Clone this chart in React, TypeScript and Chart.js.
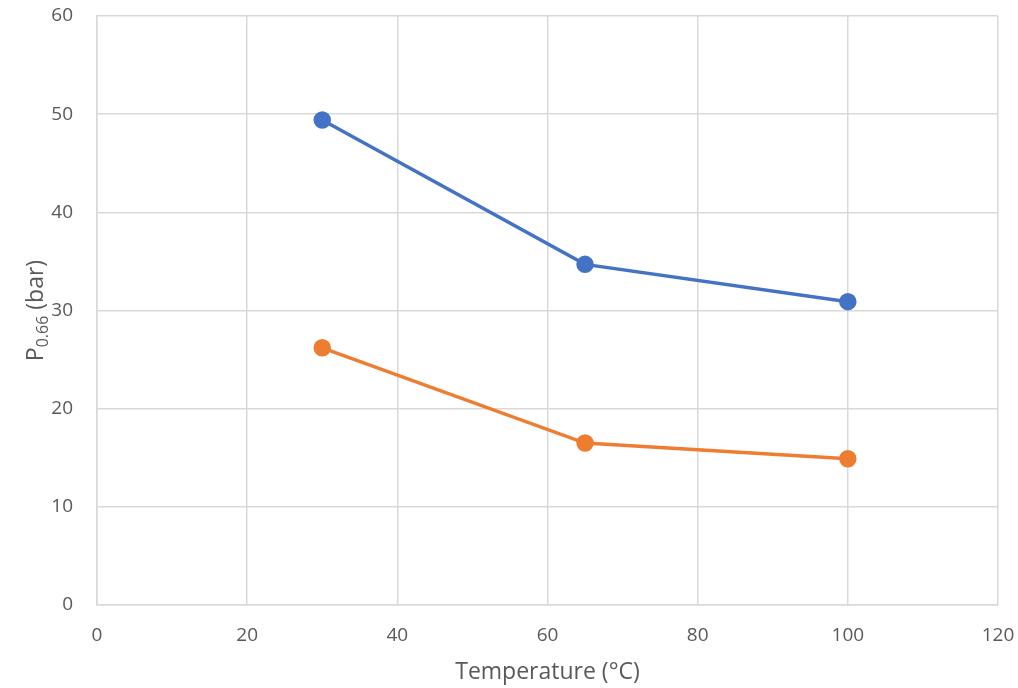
import React, { useEffect, useRef } from "react";
import { Chart, registerables } from "chart.js";

Chart.register(...registerables);

const temperatures = [30, 65, 100];
const seriesBlue = [49.4, 34.7, 30.9];
const seriesOrange = [26.2, 16.5, 14.9];
const xTitle = "Temperature (°C)";
const yTitleMain = "P";
const yTitleSub = "0.66";
const yTitleRest = " (bar)";

const FONT = "'Open Sans', 'Liberation Sans', sans-serif";
const TEXT = "#595959";
const GRID = "#d9d9d9";

const titlesPlugin = {
  id: "titles",
  afterDraw(chart: any) {
    const { ctx, chartArea } = chart;
    ctx.save();
    ctx.fillStyle = TEXT;
    // x title
    ctx.font = `23px ${FONT}`;
    ctx.textAlign = "center";
    ctx.textBaseline = "middle";
    ctx.fillText(xTitle, (chartArea.left + chartArea.right) / 2, 672);
    // y title with subscript
    const big = `23px ${FONT}`;
    const small = `16px ${FONT}`;
    ctx.font = big;
    const w1 = ctx.measureText(yTitleMain).width;
    const w3 = ctx.measureText(yTitleRest).width;
    ctx.font = small;
    const w2 = ctx.measureText(yTitleSub).width;
    const total = w1 + w2 + w3;
    const cy = (chartArea.top + chartArea.bottom) / 2;
    ctx.translate(36, cy);
    ctx.rotate(-Math.PI / 2);
    ctx.textAlign = "left";
    ctx.textBaseline = "middle";
    let x = -total / 2;
    ctx.font = big;
    ctx.fillText(yTitleMain, x, 0);
    x += w1;
    ctx.font = small;
    ctx.fillText(yTitleSub, x, 7);
    x += w2;
    ctx.font = big;
    ctx.fillText(yTitleRest, x, 0);
    ctx.restore();
  },
};

export default function App() {
  const ref = useRef<HTMLCanvasElement>(null);
  useEffect(() => {
    if (!ref.current) return;
    const chart = new Chart(ref.current, {
      type: "line",
      data: {
        datasets: [
          {
            label: "Series 1",
            data: temperatures.map((t, i) => ({ x: t, y: seriesBlue[i] })),
            borderColor: "#4472C4",
            backgroundColor: "#4472C4",
            borderWidth: 3.5,
            pointRadius: 7,
            pointHoverRadius: 7,
          },
          {
            label: "Series 2",
            data: temperatures.map((t, i) => ({ x: t, y: seriesOrange[i] })),
            borderColor: "#ED7D31",
            backgroundColor: "#ED7D31",
            borderWidth: 3.5,
            pointRadius: 7,
            pointHoverRadius: 7,
          },
        ],
      },
      options: {
        responsive: false,
        animation: false,
        layout: { padding: { top: 16, right: 20, left: 0, bottom: 0 } },
        plugins: {
          legend: { display: false },
          tooltip: { enabled: false },
        },
        scales: {
          x: {
            type: "linear",
            min: 0,
            max: 120,
            ticks: { stepSize: 20, color: TEXT, font: { size: 19, family: FONT }, padding: 19 },
            grid: { color: GRID, lineWidth: 1.5, drawTicks: false },
            border: { color: GRID, width: 1.5 },
            afterFit(scale: any) {
              scale.height = 83;
              scale.paddingLeft = 0;
              scale.paddingRight = 0;
            },
          },
          y: {
            min: 0,
            max: 60,
            ticks: { stepSize: 10, color: TEXT, font: { size: 19, family: FONT }, padding: 24 },
            grid: { color: GRID, lineWidth: 1.5, drawTicks: false },
            border: { color: GRID, width: 1.5 },
            afterFit(scale: any) {
              scale.width = 97;
              scale.paddingTop = 0;
              scale.paddingBottom = 0;
            },
          },
        },
      },
      plugins: [titlesPlugin],
    });
    return () => chart.destroy();
  }, []);
  return (
    <div style={{ position: "fixed", left: 0, top: 0, width: 1018, height: 688, background: "#fff" }}>
      <canvas ref={ref} width={1018} height={688} />
    </div>
  );
}
